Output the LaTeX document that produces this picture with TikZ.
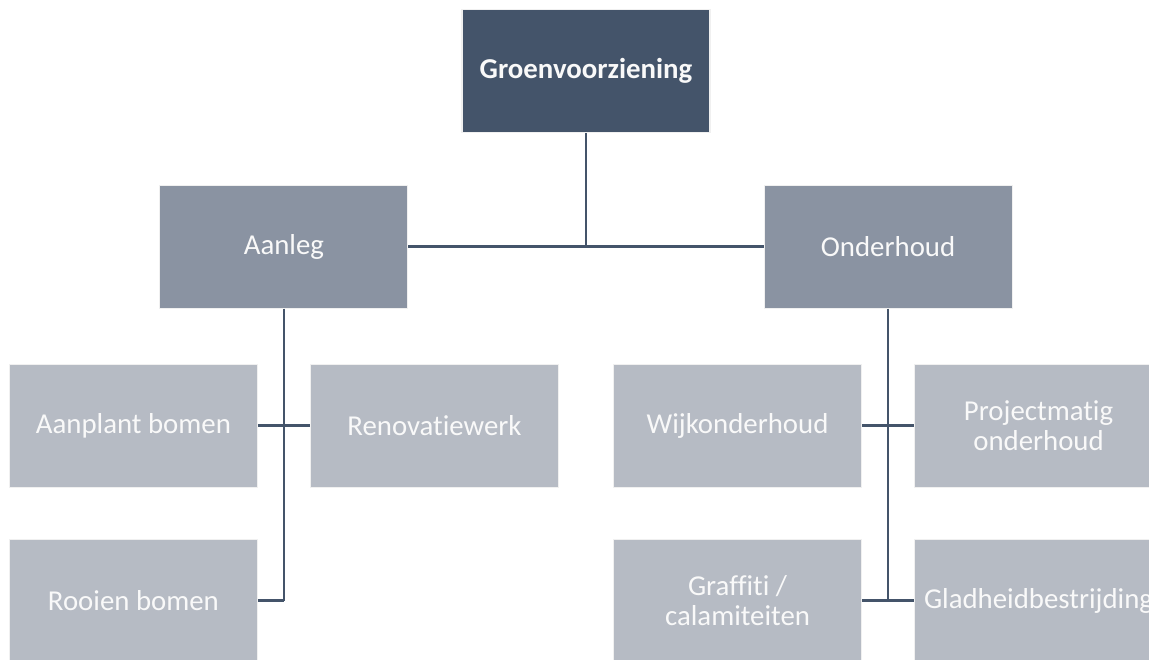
\documentclass[tikz,border=0pt]{standalone}
\usepackage{fontspec}
\setmainfont{Carlito}[Ligatures=NoCommon]
\usepackage{tikz}
\usetikzlibrary{positioning}
\definecolor{colorRoot}{HTML}{44546A}
\definecolor{colorMid}{HTML}{8A93A2}
\definecolor{colorLeaf}{HTML}{B6BBC4}
\definecolor{colorLine}{HTML}{44546A}
\tikzset{
  box/.style={rectangle, draw=gray!12, line width=0.6pt, minimum width=4.96cm, minimum height=2.46cm,
    text=white!95!gray, align=center, font=\fontsize{16.4}{17}\selectfont, inner sep=0pt},
  rootbox/.style={box, fill=colorRoot, font=\fontsize{16.4}{17}\selectfont\bfseries},
  midbox/.style={box, fill=colorMid},
  leafbox/.style={box, fill=colorLeaf},
  link/.style={draw=colorLine, line width=1.4pt}
}

\begin{document}
\begin{tikzpicture}[node distance=1.02cm]
\useasboundingbox[fill=white] (-11.72,1.42) rectangle (11.26,-11.76);
\node[rootbox] (g0) {Groenvoorziening};
\node[midbox, below left=1.03cm and 1.06cm of g0] (a1) {Aanleg};
\node[midbox, below right=1.03cm and 1.06cm of g0] (o1) {Onderhoud};
% Aanleg
\node[leafbox, below=1.1cm of a1, xshift=-3.01cm] (a11) {Aanplant bomen};
\node[leafbox, below=1.1cm of a1, xshift=3.01cm] (a12) {Renovatiewerk};
\node[leafbox, below=of a11] (a21) {Rooien bomen};
% Onderhoud
\node[leafbox, below=1.1cm of o1, xshift=-3.01cm] (o11) {Wijkonderhoud};
\node[leafbox, below=1.1cm of o1, xshift=3.01cm] (o12) {Projectmatig\\onderhoud};
\node[leafbox, below=of o11] (o21) {Graffiti /\\calamiteiten};
\node[leafbox, below=of o12] (o22) {Gladheidbestrijding};
% lines
\draw[link] (g0) -- (g0 |- a1);
\draw[link] (a1) -- (o1);
\draw[link] (a1) -- (a1 |- a21);
\draw[link] (a11) -- (a12);
\draw[link] (a21) -- (a21 -| a1);
\draw[link] (o1) -- (o1 |- o21);
\draw[link] (o11) -- (o12);
\draw[link] (o21) -- (o22);
\end{tikzpicture}
\end{document}
